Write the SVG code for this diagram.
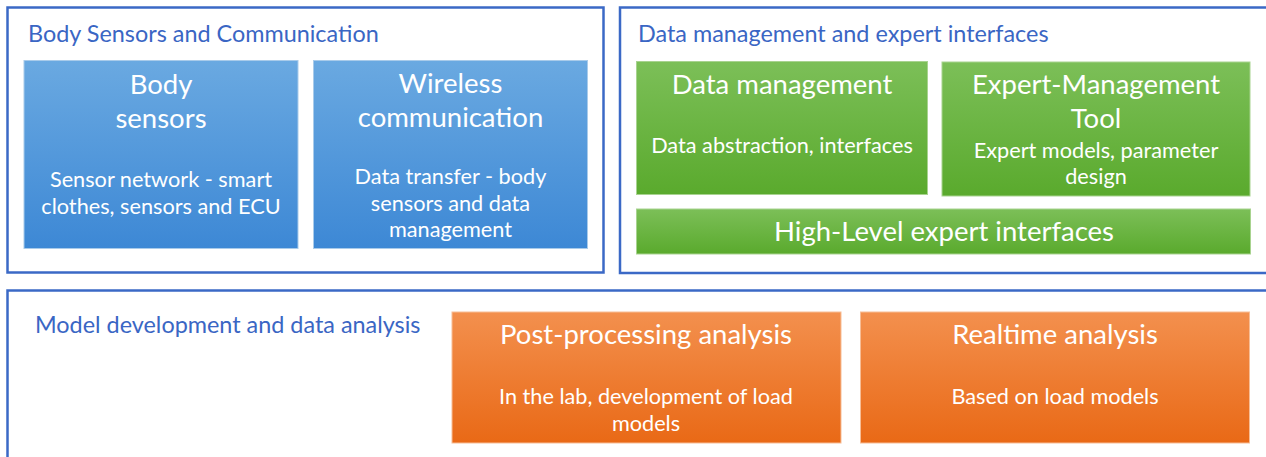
<svg xmlns="http://www.w3.org/2000/svg" width="1266" height="457" viewBox="0 0 1266 457">
<defs>
<linearGradient id="gBlue" x1="0" y1="0" x2="0" y2="1"><stop offset="0" stop-color="#6aa9e1"/><stop offset="1" stop-color="#3d88d5"/></linearGradient>
<linearGradient id="gGreen" x1="0" y1="0" x2="0" y2="1"><stop offset="0" stop-color="#7cbf58"/><stop offset="1" stop-color="#5aaa2d"/></linearGradient>
<linearGradient id="gOrange" x1="0" y1="0" x2="0" y2="1"><stop offset="0" stop-color="#f3904e"/><stop offset="1" stop-color="#e96916"/></linearGradient>
</defs>
<style>
.panel{fill:#ffffff;stroke:#3b69c6;stroke-width:2.5}
.ptitle{font-family:Lato,"Open Sans",sans-serif;font-size:23.4px;fill:#3a66c4}
.blue{fill:url(#gBlue);stroke:#a9cbea;stroke-width:1}
.green{fill:url(#gGreen);stroke:#a8d38f;stroke-width:1}
.orange{fill:url(#gOrange);stroke:#f7bd96;stroke-width:1}
.h{font-family:Lato,"Open Sans",sans-serif;font-size:27.5px;fill:#ffffff;text-anchor:middle}
.s{font-family:Lato,"Open Sans",sans-serif;font-size:21.7px;fill:#ffffff;text-anchor:middle}
</style>
<rect width="1266" height="457" fill="#ffffff"/>
<g id="panel-body">
<rect class="panel" x="7.5" y="7.5" width="596" height="265"/>
<text class="ptitle" x="28" y="42">Body Sensors and Communication</text>
</g>
<g id="panel-data">
<rect class="panel" x="620" y="7.5" width="660" height="265.5"/>
<text class="ptitle" x="638" y="42">Data management and expert interfaces</text>
</g>
<g id="panel-model">
<rect class="panel" x="7.5" y="290.5" width="1280" height="200"/>
<text class="ptitle" x="35" y="333">Model development and data analysis</text>
</g>
<g id="body-sensors">
<rect class="blue" x="24" y="60.5" width="274" height="188"/>
<text class="h" x="161" y="94">Body</text>
<text class="h" x="161" y="128">sensors</text>
<text class="s" x="161" y="187">Sensor network - smart</text>
<text class="s" x="161" y="214">clothes, sensors and ECU</text>
</g>
<g id="wireless">
<rect class="blue" x="313.5" y="60.5" width="274" height="188"/>
<text class="h" x="450.5" y="93">Wireless</text>
<text class="h" x="450.5" y="127">communication</text>
<text class="s" x="450.5" y="184">Data transfer - body</text>
<text class="s" x="450.5" y="211">sensors and data</text>
<text class="s" x="450.5" y="237">management</text>
</g>
<g id="data-management">
<rect class="green" x="636.5" y="61.5" width="291" height="133"/>
<text class="h" x="782" y="94">Data management</text>
<text class="s" x="782" y="153">Data abstraction, interfaces</text>
</g>
<g id="expert-tool">
<rect class="green" x="942" y="62" width="308" height="134"/>
<text class="h" x="1096" y="94">Expert-Management</text>
<text class="h" x="1096" y="128">Tool</text>
<text class="s" x="1096" y="158">Expert models, parameter</text>
<text class="s" x="1096" y="184">design</text>
</g>
<g id="high-level">
<rect class="green" x="636.5" y="209" width="614" height="45"/>
<text class="h" x="944" y="241">High-Level expert interfaces</text>
</g>
<g id="post-processing">
<rect class="orange" x="452" y="312" width="389" height="131"/>
<text class="h" x="646" y="344">Post-processing analysis</text>
<text class="s" x="646" y="404">In the lab, development of load</text>
<text class="s" x="646" y="431">models</text>
</g>
<g id="realtime">
<rect class="orange" x="860.5" y="312" width="389" height="131"/>
<text class="h" x="1055" y="344">Realtime analysis</text>
<text class="s" x="1055" y="404">Based on load models</text>
</g>
<g id="connectors"/>
</svg>
